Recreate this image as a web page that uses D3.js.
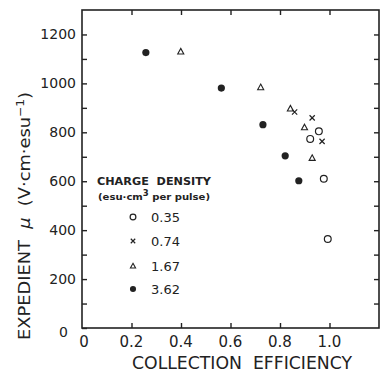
<!DOCTYPE html>
<html>
<head>
<meta charset="utf-8">
<script src="https://cdn.jsdelivr.net/npm/d3@7"></script>
<style>
  html, body { margin: 0; padding: 0; background: #fff; }
  svg { display: block; }
  text { font-family: "DejaVu Sans", sans-serif; fill: #222; }
</style>
</head>
<body>
<svg id="chart" width="381" height="374"></svg>
<script>
// ---- data ----
const seriesLabels = ["0.35", "0.74", "1.67", "3.62"];
const seriesShapes = ["openCircle", "cross", "triangle", "filledCircle"];

const eff035 = [0.957, 0.922, 0.977, 0.993];
const mu035  = [804, 773, 610, 364];

const eff074 = [0.859, 0.930, 0.970];
const mu074  = [883, 859, 763];

const eff167 = [0.399, 0.722, 0.842, 0.899, 0.930];
const mu167  = [1130, 984, 897, 820, 695];

const eff362 = [0.258, 0.563, 0.731, 0.821, 0.876];
const mu362  = [1126, 981, 831, 704, 602];

const xTicks = [0, 0.2, 0.4, 0.6, 0.8, 1.0];
const xTickLabels = ["0", "0.2", "0.4", "0.6", "0.8", "1.0"];
const yMajorTicks = [0, 200, 400, 600, 800, 1000, 1200];
const yMinorTicks = [0, 100, 200, 300, 400, 500, 600, 700, 800, 900, 1000, 1100, 1200];

const xTitle = "COLLECTION\u00A0\u00A0EFFICIENCY";
const legendTitle = "CHARGE\u00A0\u00A0DENSITY";

// ---- layout ----
const svg = d3.select("#chart");
const L = 82, R = 379, T = 10, B = 328;
const x = d3.scaleLinear().domain([0, 1.2]).range([L, R]);
const y = d3.scaleLinear().domain([0, 1300]).range([B, T]);
const ink = "#222";

// frame
svg.append("rect").attr("x", L).attr("y", T).attr("width", R - L).attr("height", B - T)
  .attr("fill", "none").attr("stroke", ink).attr("stroke-width", 1.6);

// left axis (inward ticks)
const gl = svg.append("g").attr("transform", `translate(${L},0)`)
  .call(d3.axisRight(y).tickValues(yMinorTicks).tickSize(5).tickFormat(""));
gl.select(".domain").remove();
gl.selectAll("line").attr("stroke", ink).attr("stroke-width", 1.4);

// left tick labels
svg.append("g").selectAll("text").data(yMajorTicks).join("text")
  .attr("x", d => d === 0 ? 68 : 76)
  .attr("y", d => y(d) + (d === 0 ? 8.5 : 5))
  .attr("text-anchor", "end")
  .attr("font-size", 14)
  .text(d => d);

// right axis (inward ticks)
const gr = svg.append("g").attr("transform", `translate(${R},0)`)
  .call(d3.axisLeft(y).tickValues(yMinorTicks.filter(d => d > 0)).tickSize(5).tickFormat(""));
gr.select(".domain").remove();
gr.selectAll("line").attr("stroke", ink).attr("stroke-width", 1.4);

// bottom axis (inward ticks)
const gb = svg.append("g").attr("transform", `translate(0,${B})`)
  .call(d3.axisTop(x).tickValues(xTicks.filter(d => d > 0)).tickSize(5).tickFormat(""));
gb.select(".domain").remove();
gb.selectAll("line").attr("stroke", ink).attr("stroke-width", 1.4);

// top axis (inward ticks)
const gt = svg.append("g").attr("transform", `translate(0,${T})`)
  .call(d3.axisBottom(x).tickValues(xTicks.filter(d => d > 0)).tickSize(5).tickFormat(""));
gt.select(".domain").remove();
gt.selectAll("line").attr("stroke", ink).attr("stroke-width", 1.4);

// bottom tick labels
svg.append("g").selectAll("text").data(xTicks).join("text")
  .attr("x", (d, i) => x(d) + (i === 0 ? 2 : 0))
  .attr("y", 346.5)
  .attr("text-anchor", "middle")
  .attr("font-size", 15)
  .text((d, i) => xTickLabels[i]);

// x title
svg.append("text")
  .attr("x", 242).attr("y", 369)
  .attr("text-anchor", "middle")
  .attr("font-size", 18)
  .attr("textLength", 220).attr("lengthAdjust", "spacingAndGlyphs")
  .text(xTitle);

// y title
const yt = svg.append("text")
  .attr("transform", "translate(30,216) rotate(-90)")
  .attr("text-anchor", "middle")
  .attr("font-size", 16)
  .attr("textLength", 248).attr("lengthAdjust", "spacingAndGlyphs");
yt.append("tspan").text("EXPEDIENT\u00A0\u00A0");
yt.append("tspan").attr("font-style", "italic").text("μ");
yt.append("tspan").text("\u00A0\u00A0(V·cm·esu");
yt.append("tspan").attr("dy", -6).attr("font-size", 11).text("−1");
yt.append("tspan").attr("dy", 6).text(")");

// ---- markers ----
function drawMarker(g, shape, cx, cy, s) {
  if (shape === "openCircle") {
    g.append("circle").attr("cx", cx).attr("cy", cy).attr("r", 3.4 * s)
      .attr("fill", "none").attr("stroke", ink).attr("stroke-width", 1.2);
  } else if (shape === "filledCircle") {
    g.append("circle").attr("cx", cx).attr("cy", cy).attr("r", 3.6 * s)
      .attr("fill", ink).attr("stroke", "none");
  } else if (shape === "triangle") {
    const h = 3.2 * s;
    g.append("path")
      .attr("d", `M${cx},${cy - h}L${cx + h * 0.95},${cy + h * 0.75}L${cx - h * 0.95},${cy + h * 0.75}Z`)
      .attr("fill", "none").attr("stroke", ink).attr("stroke-width", 1.1);
  } else if (shape === "cross") {
    const h = 2.6 * s;
    g.append("path")
      .attr("d", `M${cx - h},${cy - h}L${cx + h},${cy + h}M${cx + h},${cy - h}L${cx - h},${cy + h}`)
      .attr("fill", "none").attr("stroke", ink).attr("stroke-width", 1.2);
  }
}

const series = [
  { xs: eff035, ys: mu035, shape: seriesShapes[0] },
  { xs: eff074, ys: mu074, shape: seriesShapes[1] },
  { xs: eff167, ys: mu167, shape: seriesShapes[2] },
  { xs: eff362, ys: mu362, shape: seriesShapes[3] }
];
const gp = svg.append("g");
series.forEach(s => {
  s.xs.forEach((v, i) => drawMarker(gp, s.shape, x(v), y(s.ys[i]), 1));
});

// ---- legend ----
const lg = svg.append("g");
lg.append("text").attr("x", 97).attr("y", 184.5)
  .attr("font-size", 11).attr("font-weight", "bold")
  .attr("textLength", 114).attr("lengthAdjust", "spacingAndGlyphs")
  .text(legendTitle);
const sub = lg.append("text").attr("x", 98).attr("y", 200)
  .attr("font-size", 9.5).attr("font-weight", "bold")
  .attr("textLength", 112).attr("lengthAdjust", "spacingAndGlyphs");
sub.append("tspan").text("(esu·cm");
sub.append("tspan").attr("dy", -4).attr("font-size", 8).text("3");
sub.append("tspan").attr("dy", 4).text("\u00A0per pulse)");

const legendY = [217, 241, 266, 289];
seriesLabels.forEach((lab, i) => {
  drawMarker(lg, seriesShapes[i], 133, legendY[i], 0.85);
  lg.append("text").attr("x", 151).attr("y", legendY[i] + 5)
    .attr("font-size", 13).text(lab);
});
</script>
</body>
</html>
